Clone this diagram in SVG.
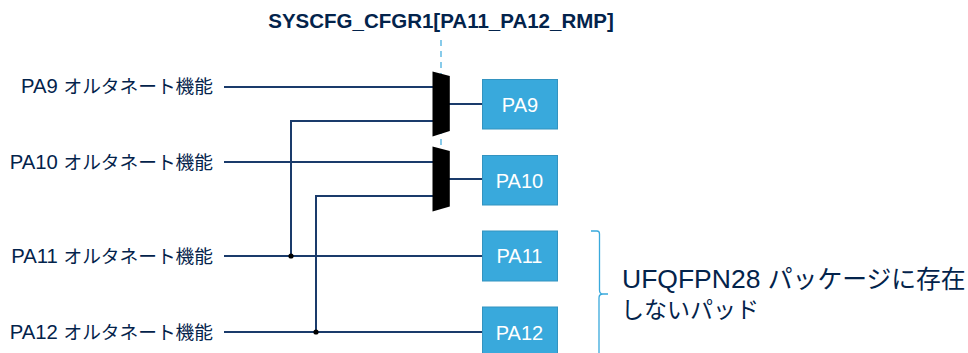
<svg xmlns="http://www.w3.org/2000/svg" width="968" height="353" viewBox="0 0 968 353">
<style>
text{font-family:"Liberation Sans","Noto Sans CJK JP",sans-serif;fill:#03234b}
.lbl{font-size:20.300px;text-anchor:end}
.lbl tspan{font-size:18.700px}
.pad{fill:#39a9dc;stroke:#3393c0;stroke-width:1}
.padt{font-size:20px;fill:#fff;text-anchor:middle}
.w{fill:none;stroke:#1a3b6b;stroke-width:2}
.mux{fill:#000}
.dot{fill:#000}
</style>
<rect width="968" height="353" fill="#fff"/>
<g id="title"><text x="441" y="28" font-size="20.500" font-weight="bold" text-anchor="middle">SYSCFG_CFGR1[PA11_PA12_RMP]</text></g>
<g id="connectors">
<path d="M441 40V150" fill="none" stroke="#39a9dc" stroke-width="1.2" stroke-dasharray="6 5"/>
<path class="w" d="M224 87H433"/>
<path class="w" d="M433 121H291V256"/>
<path class="w" d="M224 162H433"/>
<path class="w" d="M433 196H316V332"/>
<path class="w" d="M224 256H482"/>
<path class="w" d="M224 332H482"/>
<path class="w" d="M449 104H482"/>
<path class="w" d="M449 179H482"/>
<circle class="dot" cx="291" cy="256" r="2.6"/>
<circle class="dot" cx="316" cy="332" r="2.6"/>
</g>
<g id="mux1"><polygon class="mux" points="432.500,71.500 449.800,76 449.800,131 432.500,136.500"/></g>
<g id="mux2"><polygon class="mux" points="432.500,146.500 449.800,151 449.800,206.500 432.500,211.500"/></g>
<g id="pa9-label"><text class="lbl" x="213" y="93">PA9 <tspan>オルタネート機能</tspan></text></g>
<g id="pa10-label"><text class="lbl" x="213" y="169">PA10 <tspan>オルタネート機能</tspan></text></g>
<g id="pa11-label"><text class="lbl" x="213" y="263">PA11 <tspan>オルタネート機能</tspan></text></g>
<g id="pa12-label"><text class="lbl" x="213" y="339">PA12 <tspan>オルタネート機能</tspan></text></g>
<g id="pa9"><rect class="pad" x="482.500" y="79.500" width="75" height="49.500"/><text class="padt" x="520" y="112">PA9</text></g>
<g id="pa10"><rect class="pad" x="482.500" y="155.500" width="75" height="49.500"/><text class="padt" x="519.500" y="188">PA10</text></g>
<g id="pa11"><rect class="pad" x="482.500" y="231" width="75" height="50"/><text class="padt" x="519.500" y="263">PA11</text></g>
<g id="pa12"><rect class="pad" x="482.500" y="307" width="75" height="50"/><text class="padt" x="519.500" y="340">PA12</text></g>
<g id="brace"><path d="M591 231H597Q599.500 231 599.500 234V290Q599.500 294 603 294H608M603 294Q599 294 599 298V353" fill="none" stroke="#39a9dc" stroke-width="1.3"/></g>
<g id="note"><text x="622" y="288" font-size="26.500">UFQFPN28 <tspan font-size="24.800">パッケージに存在</tspan></text><text x="621" y="318" font-size="23">しないパッド</text></g>
</svg>
